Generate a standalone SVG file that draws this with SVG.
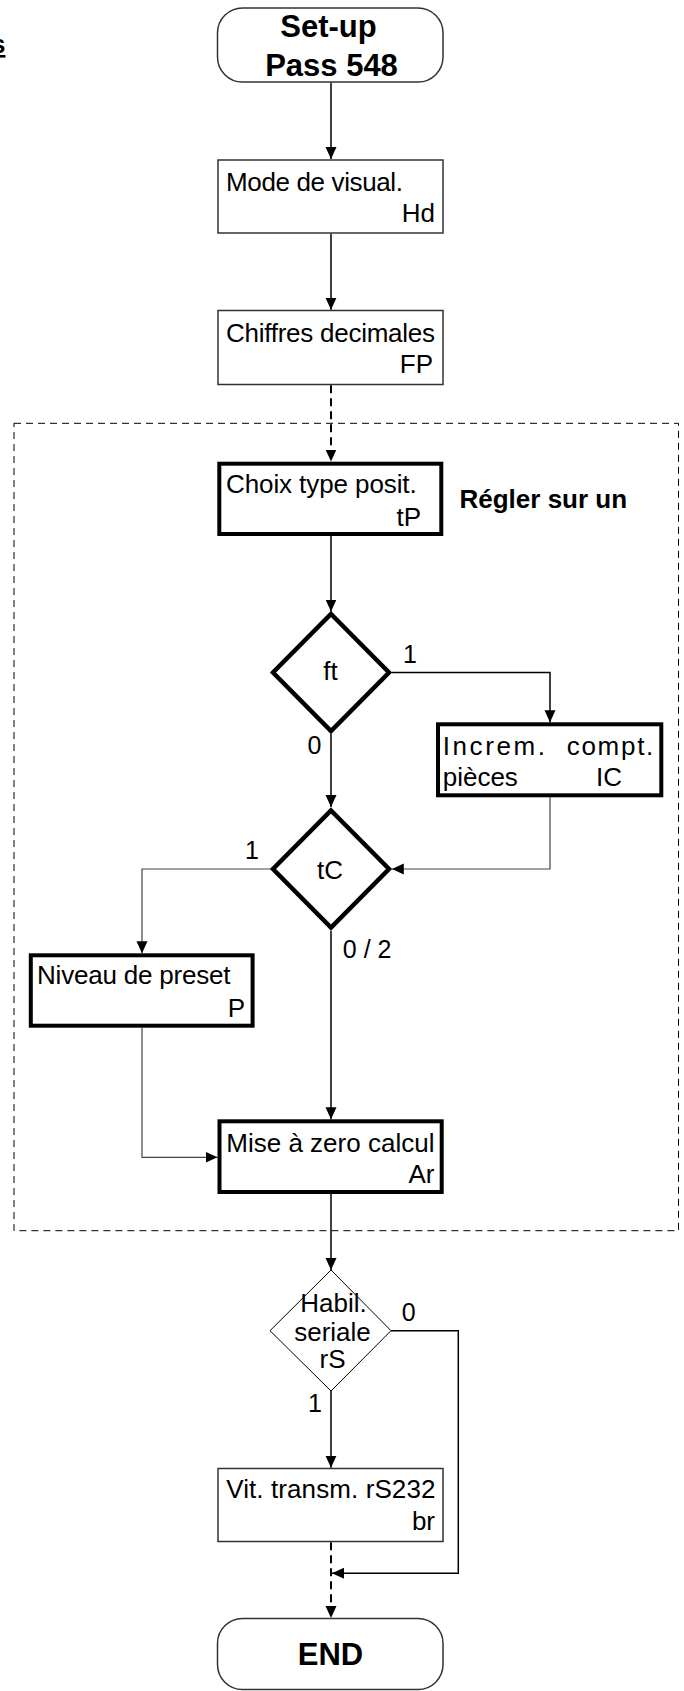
<svg xmlns="http://www.w3.org/2000/svg" width="684" height="1691" viewBox="0 0 684 1691">
<defs>
<marker id="ah" markerUnits="userSpaceOnUse" markerWidth="12" markerHeight="12" refX="12" refY="5.5" orient="auto">
<path d="M0,0 L12,5.5 L0,11 z" fill="#000"/>
</marker>
<style>
.t{font-family:"Liberation Sans",Arial,sans-serif;font-size:26px;fill:#000}
.b{font-family:"Liberation Sans",Arial,sans-serif;font-weight:bold;fill:#000}
.lbl{font-family:"Liberation Sans",Arial,sans-serif;font-size:25px;fill:#000}
.thin{fill:#fff;stroke:#333;stroke-width:1.5}
.thick{fill:#fff;stroke:#000;stroke-width:4}
.dia{fill:#fff;stroke:#000;stroke-width:4.5;stroke-linejoin:miter}
.c{fill:none;stroke:#000;stroke-width:1.5}
.cg{fill:none;stroke:#444;stroke-width:1.2}
.cd{fill:none;stroke:#000;stroke-width:2;stroke-dasharray:8 5}
.frame{fill:none;stroke:#000;stroke-width:1;stroke-dasharray:7 5}
</style>
</defs>
<rect width="684" height="1691" fill="#fff"/>
<text class="b" x="-9" y="53" font-size="26" text-decoration="underline">s</text>
<rect class="frame" x="14" y="423.3" width="664.5" height="807.4"/>
<g id="connectors">
<path class="c" d="M331,82.5 V159" marker-end="url(#ah)"/>
<path class="c" d="M331,233.75 V309.75" marker-end="url(#ah)"/>
<path class="cd" d="M331,385.25 V461.5" marker-end="url(#ah)"/>
<path class="c" d="M331,536 V611.5" marker-end="url(#ah)"/>
<path class="c" d="M391.8,672.5 H550 V722.3" marker-end="url(#ah)"/>
<path class="c" d="M331,733.8 V807" marker-end="url(#ah)"/>
<path class="cg" d="M550,797.3 V869 H391.8" marker-end="url(#ah)"/>
<path class="cg" d="M270.2,869 H142 V953.3" marker-end="url(#ah)"/>
<path class="c" d="M331,930.8 V1119.3" marker-end="url(#ah)"/>
<path class="cg" d="M142,1027.7 V1157.3 H217.5" marker-end="url(#ah)"/>
<path class="c" d="M331,1194 V1270" marker-end="url(#ah)"/>
<path class="c" d="M331,1391 V1467.75" marker-end="url(#ah)"/>
<path class="c" d="M391,1330.7 H458.3 V1573.3 H332" marker-end="url(#ah)"/>
<path class="cd" d="M331,1542.25 V1618" marker-end="url(#ah)"/>
</g>
<g id="setup">
<rect class="thin" x="217.5" y="8" width="225.5" height="74" rx="25" ry="25"/>
<text class="b" font-size="31" x="328.5" y="37" text-anchor="middle">Set-up</text>
<text class="b" font-size="31" x="331.5" y="76" text-anchor="middle">Pass 548</text>
</g>
<g id="mode">
<rect class="thin" x="218" y="160" width="225" height="73"/>
<text class="t" x="226" y="190.5" textLength="177" lengthAdjust="spacing">Mode de visual.</text>
<text class="t" x="435" y="221.7" text-anchor="end">Hd</text>
</g>
<g id="chiffres">
<rect class="thin" x="218" y="310.5" width="225" height="74"/>
<text class="t" x="226" y="341.7" textLength="209" lengthAdjust="spacing">Chiffres decimales</text>
<text class="t" x="433" y="373.3" text-anchor="end">FP</text>
</g>
<g id="choix">
<rect class="thick" x="219.3" y="463.7" width="222" height="70.3"/>
<text class="t" x="226" y="492.5" textLength="190.7" lengthAdjust="spacing">Choix type posit.</text>
<text class="t" x="421" y="525.5" text-anchor="end">tP</text>
</g>
<text id="regler" class="b" font-size="26" x="459.5" y="508.3">Régler sur un</text>
<g id="ft">
<path class="dia" d="M331,614 L389,672.5 L331,731 L273,672.5 Z"/>
<text class="t" x="330.5" y="680" text-anchor="middle">ft</text>
</g>
<g id="increm">
<rect class="thick" x="438" y="724.3" width="223.3" height="71"/>
<text class="t" x="442.7" y="755" textLength="102.3" lengthAdjust="spacing">Increm.</text>
<text class="t" x="566.7" y="755" textLength="86.6" lengthAdjust="spacing">compt.</text>
<text class="t" x="442.7" y="786">pièces</text>
<text class="t" x="596" y="786">IC</text>
</g>
<g id="tc">
<path class="dia" d="M331,810.5 L389,869 L331,927.5 L273,869 Z"/>
<text class="t" x="330" y="879.3" text-anchor="middle">tC</text>
</g>
<g id="niveau">
<rect class="thick" x="30.8" y="955.3" width="221.8" height="70.4"/>
<text class="t" x="37" y="984" textLength="193.5" lengthAdjust="spacing">Niveau de preset</text>
<text class="t" x="245" y="1016.7" text-anchor="end">P</text>
</g>
<g id="mise">
<rect class="thick" x="219.5" y="1121.3" width="222.2" height="70.7"/>
<text class="t" x="226.2" y="1151.7" textLength="208.3" lengthAdjust="spacing">Mise à zero calcul</text>
<text class="t" x="434.5" y="1183.3" text-anchor="end">Ar</text>
</g>
<g id="habil">
<path fill="#fff" stroke="#000" stroke-width="1" d="M331,1270 L391,1330.7 L331,1391 L270,1330.7 Z"/>
<text class="t" font-size="23" x="333.5" y="1311.7" text-anchor="middle">Habil.</text>
<text class="t" font-size="23" x="332.5" y="1340.5" text-anchor="middle">seriale</text>
<text class="t" font-size="23" x="332.5" y="1368.3" text-anchor="middle">rS</text>
</g>
<g id="vit">
<rect class="thin" x="218" y="1468.5" width="225" height="73"/>
<text class="t" x="226.2" y="1498.3" textLength="209.2" lengthAdjust="spacing">Vit. transm. rS232</text>
<text class="t" x="435" y="1530" text-anchor="end">br</text>
</g>
<g id="end">
<rect class="thin" x="217.5" y="1618.5" width="225.5" height="71" rx="25" ry="25"/>
<text class="b" font-size="31" x="330.5" y="1665" text-anchor="middle">END</text>
</g>
<g id="labels">
<text class="lbl" x="403" y="663.3">1</text>
<text class="lbl" x="314.5" y="754" text-anchor="middle">0</text>
<text class="lbl" x="252" y="858.5" text-anchor="middle">1</text>
<text class="lbl" x="342.8" y="958.3">0 / 2</text>
<text class="lbl" x="401.7" y="1320.7">0</text>
<text class="lbl" x="308" y="1411.7">1</text>
</g>
</svg>
